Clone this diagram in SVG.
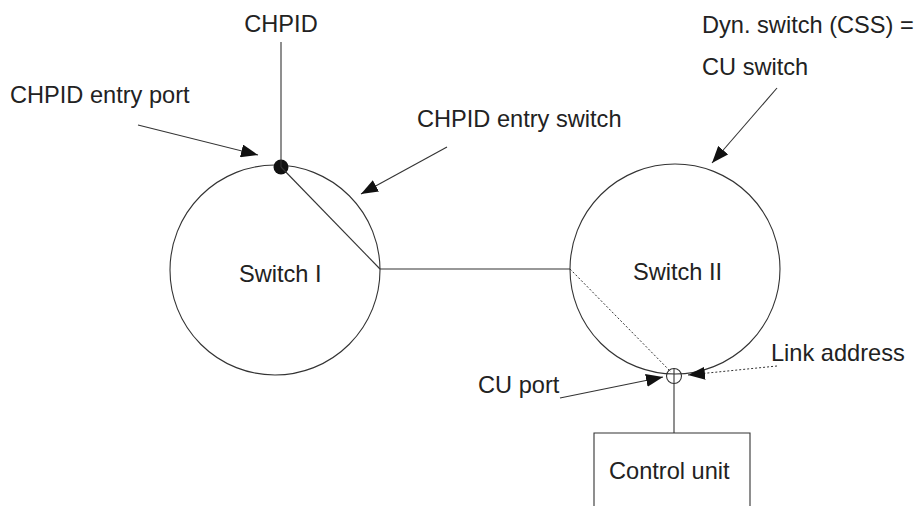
<svg xmlns="http://www.w3.org/2000/svg" width="914" height="506" viewBox="0 0 914 506">
<defs>
<style>
text{font-family:"Liberation Sans",Arial,sans-serif;font-size:23.6px;fill:#222}
.ln{stroke:#333;stroke-width:1.1;fill:none}
.dot{stroke:#333;stroke-width:1;stroke-dasharray:2 2;fill:none}
</style>
<marker id="ah" viewBox="0 0 17 13" refX="17" refY="6.5" markerWidth="17" markerHeight="13" markerUnits="userSpaceOnUse" orient="auto">
<path d="M0,0 L17,6.5 L0,13 Z" fill="#111"/>
</marker>
</defs>
<rect width="914" height="506" fill="#fff"/>
<g id="switch1">
<circle class="ln" cx="275" cy="270" r="105"/>
<text x="239" y="282">Switch I</text>
</g>
<g id="switch2">
<circle class="ln" cx="675" cy="269" r="105"/>
<text x="633" y="280">Switch II</text>
</g>
<g id="chpid">
<text x="281" y="32" text-anchor="middle">CHPID</text>
<circle cx="281" cy="167" r="7.5" fill="#111"/>
</g>
<g id="cuport">
<circle class="ln" cx="674" cy="376" r="7.5"/>
</g>
<g id="controlunit">
<path class="ln" d="M594,507 V433 H750 V507"/>
<text x="609" y="479">Control unit</text>
</g>
<g id="labels">
<text x="10" y="103">CHPID entry port</text>
<text x="417" y="127">CHPID entry switch</text>
<text x="702" y="33">Dyn. switch (CSS) =</text>
<text x="702" y="75">CU switch</text>
<text x="771" y="361">Link address</text>
<text x="478" y="393">CU port</text>
</g>
<g id="connectors">
<line class="ln" x1="281" y1="42" x2="281" y2="167"/>
<line class="ln" x1="281" y1="167" x2="380" y2="269"/>
<line class="ln" x1="380" y1="269" x2="570" y2="269"/>
<line class="dot" x1="570" y1="269" x2="671" y2="372"/>
<line class="ln" x1="674" y1="368" x2="674" y2="433"/>
<line class="ln" x1="138" y1="125" x2="258" y2="155" marker-end="url(#ah)"/>
<line class="ln" x1="447" y1="147" x2="361" y2="194" marker-end="url(#ah)"/>
<line class="ln" x1="777" y1="88" x2="712" y2="163" marker-end="url(#ah)"/>
<line class="ln" x1="560" y1="398" x2="663" y2="377" marker-end="url(#ah)"/>
<line class="dot" x1="777" y1="366" x2="688" y2="375" marker-end="url(#ah)"/>
</g>
</svg>
